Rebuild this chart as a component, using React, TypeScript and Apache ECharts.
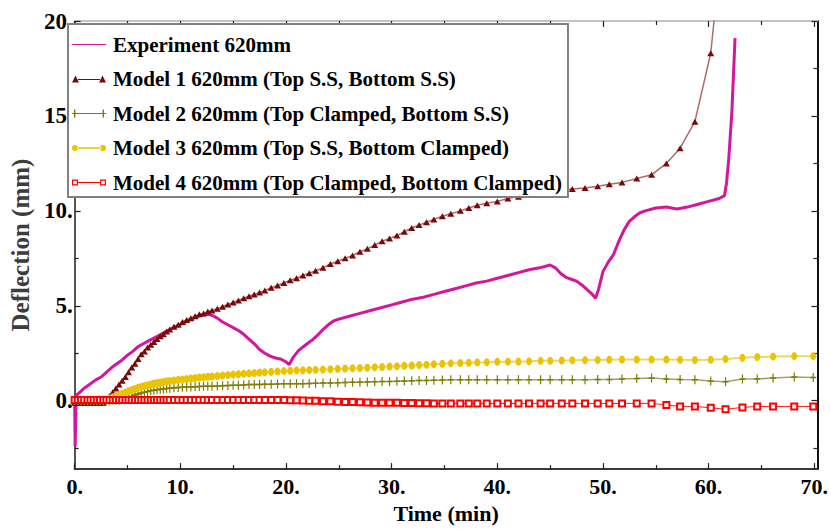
import React, { useEffect, useRef } from 'react';
import * as echarts from 'echarts';

const FONT = '"Liberation Serif", "Times New Roman", serif';

// Experiment (time in min, deflection in mm)
const expTime = [0, 0.05, 0.15, 0.4, 1, 1.5, 2, 2.5, 3, 3.5, 4, 4.5, 5, 5.5, 6, 6.5, 7, 7.5, 8, 8.5, 9, 9.5, 10, 10.5, 11, 11.5, 12, 12.5, 13, 13.5, 14, 14.5, 15, 15.5, 16, 16.5, 17, 17.5, 18, 18.5, 19, 19.5, 20, 20.3, 20.7, 21.2, 22, 22.5, 23, 23.5, 24, 24.5, 25, 26, 27, 28, 29, 30, 31, 32, 33, 34, 35, 36, 37, 38, 39, 40, 41, 42, 43, 44, 45, 45.5, 46, 46.5, 47, 47.5, 48, 48.5, 49, 49.3, 49.6, 50, 50.5, 51, 51.5, 52, 52.5, 53, 53.5, 54, 55, 56, 57, 58, 59, 60, 61, 61.5, 61.7, 61.9, 62.2, 62.5];
const expDeflection = [0, -2.4, 0.3, 0.4, 0.7, 0.9, 1.1, 1.25, 1.5, 1.75, 1.95, 2.15, 2.4, 2.6, 2.85, 3.0, 3.15, 3.3, 3.45, 3.6, 3.75, 3.9, 4.0, 4.15, 4.3, 4.4, 4.5, 4.55, 4.5, 4.35, 4.15, 4.0, 3.85, 3.7, 3.5, 3.25, 3.0, 2.7, 2.5, 2.35, 2.25, 2.2, 2.05, 1.9, 2.3, 2.65, 3.0, 3.2, 3.45, 3.75, 4.0, 4.2, 4.3, 4.45, 4.6, 4.75, 4.9, 5.05, 5.2, 5.35, 5.45, 5.6, 5.75, 5.9, 6.05, 6.2, 6.3, 6.45, 6.6, 6.75, 6.9, 7.0, 7.15, 7.0, 6.7, 6.5, 6.4, 6.3, 6.1, 5.85, 5.6, 5.4, 5.9, 6.8, 7.3, 7.7, 8.4, 9.0, 9.45, 9.7, 9.9, 10.0, 10.15, 10.2, 10.1, 10.2, 10.35, 10.5, 10.65, 10.8, 11.5, 12.7, 15.2, 19.1];

// Model output time steps (min)
const modelTime = [
  0, 0.3, 0.6, 0.9, 1.2, 1.5, 1.8, 2.1, 2.4, 2.7,
  3.0, 3.3, 3.6, 3.9, 4.2, 4.5, 4.8, 5.1, 5.4, 5.7,
  6.0, 6.3, 6.6, 6.9, 7.2, 7.5, 7.8, 8.1, 8.4, 8.7,
  9.0, 9.4, 9.8, 10.2, 10.6, 11.0, 11.4, 11.8, 12.2, 12.6,
  13.0, 13.5, 14.0, 14.5, 15.0, 15.5, 16.0, 16.5, 17.0, 17.5,
  18.0, 18.6, 19.2, 19.8, 20.4, 21.0, 21.6, 22.2, 22.8, 23.5,
  24.2, 24.9, 25.6, 26.3, 27.0, 27.7, 28.4, 29.1, 29.8, 30.5,
  31.2, 31.9, 32.6, 33.3, 34.0, 34.8, 35.6, 36.5, 37.3, 38.1,
  39.0, 40.0, 41.0, 42.0, 43.0, 44.1, 45.0, 46.1, 47.1, 48.3,
  49.5, 50.6, 51.8, 53.2, 54.6, 56.0, 57.3, 58.7, 60.2, 61.6,
  63.2, 64.6, 66.1, 68.1, 69.9,
];

const model1 = [
  -0.1, -0.1, -0.1, -0.1, -0.1, -0.1, -0.1, -0.1, -0.1, -0.1,
  0.0, 0.25, 0.45, 0.65, 0.85, 1.05, 1.25, 1.5, 1.75, 1.95,
  2.2, 2.45, 2.6, 2.8, 2.95, 3.1, 3.25, 3.4, 3.5, 3.65,
  3.75, 3.9, 4.0, 4.15, 4.25, 4.35, 4.45, 4.55, 4.6, 4.7,
  4.75, 4.85, 4.95, 5.07, 5.18, 5.28, 5.4, 5.5, 5.6, 5.7,
  5.8, 5.95, 6.07, 6.2, 6.35, 6.45, 6.6, 6.72, 6.85, 7.0,
  7.2, 7.35, 7.5, 7.65, 7.85, 8.0, 8.2, 8.4, 8.55, 8.7,
  8.9, 9.1, 9.25, 9.4, 9.55, 9.72, 9.85, 10.0, 10.15, 10.3,
  10.4, 10.5, 10.65, 10.75, 10.85, 10.95, 11.05, 11.1, 11.15, 11.2,
  11.3, 11.4, 11.5, 11.7, 11.9, 12.5, 13.3, 14.7, 18.3, 26,
  null, null, null, null, null,
];

const model2 = [
  0.02, 0.02, 0.02, 0.02, 0.02, 0.02, 0.02, 0.02, 0.02, 0.02,
  0.02, 0.02, 0.02, 0.02, 0.02, 0.05, 0.1, 0.17, 0.24, 0.3,
  0.36, 0.41, 0.45, 0.49, 0.52, 0.55, 0.58, 0.6, 0.62, 0.64,
  0.66, 0.68, 0.7, 0.71, 0.72, 0.73, 0.74, 0.75, 0.76, 0.77,
  0.77, 0.78, 0.79, 0.8, 0.81, 0.82, 0.83, 0.85, 0.85, 0.86,
  0.87, 0.87, 0.88, 0.89, 0.89, 0.9, 0.9, 0.91, 0.92, 0.93,
  0.94, 0.95, 0.96, 0.97, 0.98, 0.99, 1.0, 1.01, 1.02, 1.03,
  1.04, 1.05, 1.06, 1.07, 1.08, 1.09, 1.1, 1.1, 1.1, 1.1,
  1.1, 1.1, 1.1, 1.1, 1.1, 1.1, 1.1, 1.1, 1.1, 1.1,
  1.12, 1.12, 1.15, 1.17, 1.2, 1.15, 1.12, 1.1, 1.04, 1.0,
  1.15, 1.15, 1.2, 1.25, 1.22,
];

const model3 = [
  0.02, 0.02, 0.02, 0.02, 0.02, 0.02, 0.02, 0.02, 0.02, 0.02,
  0.05, 0.12, 0.18, 0.24, 0.3, 0.36, 0.43, 0.5, 0.56, 0.62,
  0.68, 0.73, 0.78, 0.82, 0.86, 0.9, 0.93, 0.96, 0.99, 1.02,
  1.04, 1.07, 1.1, 1.12, 1.14, 1.17, 1.19, 1.22, 1.24, 1.26,
  1.28, 1.3, 1.33, 1.35, 1.38, 1.4, 1.42, 1.44, 1.46, 1.48,
  1.5, 1.52, 1.54, 1.56, 1.58, 1.6, 1.61, 1.62, 1.63, 1.65,
  1.66, 1.68, 1.69, 1.71, 1.72, 1.74, 1.76, 1.78, 1.8, 1.82,
  1.84, 1.86, 1.88, 1.9, 1.92, 1.95, 1.97, 1.99, 2.0, 2.02,
  2.03, 2.05, 2.06, 2.07, 2.08, 2.1, 2.11, 2.12, 2.13, 2.14,
  2.15, 2.16, 2.17, 2.17, 2.17, 2.17, 2.16, 2.15, 2.16, 2.2,
  2.26, 2.3, 2.33, 2.35, 2.35,
];

const model4 = [
  0.04, 0.04, 0.04, 0.04, 0.04, 0.04, 0.04, 0.04, 0.04, 0.04,
  0.04, 0.04, 0.04, 0.04, 0.04, 0.04, 0.04, 0.04, 0.04, 0.04,
  0.04, 0.04, 0.04, 0.04, 0.04, 0.04, 0.04, 0.04, 0.04, 0.04,
  0.04, 0.04, 0.04, 0.04, 0.04, 0.04, 0.04, 0.04, 0.04, 0.04,
  0.04, 0.04, 0.04, 0.04, 0.04, 0.04, 0.04, 0.04, 0.04, 0.04,
  0.04, 0.04, 0.04, 0.04, 0.02, 0.02, 0.01, 0.0, 0.0, -0.02,
  -0.03, -0.05, -0.06, -0.07, -0.08, -0.09, -0.1, -0.1, -0.1, -0.11,
  -0.12, -0.12, -0.13, -0.13, -0.14, -0.14, -0.14, -0.14, -0.14, -0.14,
  -0.14, -0.14, -0.14, -0.14, -0.14, -0.14, -0.14, -0.14, -0.14, -0.14,
  -0.14, -0.14, -0.14, -0.14, -0.14, -0.22, -0.3, -0.3, -0.37, -0.45,
  -0.35, -0.3, -0.3, -0.3, -0.3,
];

const seriesNames = [
  'Experiment 620mm',
  'Model 1 620mm (Top S.S, Bottom S.S)',
  'Model 2 620mm (Top Clamped, Bottom S.S)',
  'Model 3 620mm (Top S.S, Bottom Clamped)',
  'Model 4 620mm (Top Clamped, Bottom Clamped)',
];

const xMajorTicks = [0, 10, 20, 30, 40, 50, 60, 70];
const xMinorTicks = [5, 15, 25, 35, 45, 55, 65];
const yMajorTicks = [0, 5, 10, 15, 20];
const yMinorTicks = [-2.5, 2.5, 7.5, 12.5, 17.5];

const X_MIN = 0;
const X_MAX = 70.3;
const Y_MIN = -3.6;
const Y_MAX = 20;

const PLUS = 'path://M4,0h2v12h-2z M0,5h10v2h-10z';

// legend icons: short line with a marker at each end
const ICON_EXP = 'path://M0,4.4h34v1.2h-34z';
const ICON_M1 = 'path://M0,10L3.5,3L7,10Z M27,10L30.5,3L34,10Z M6,6.4h22v1.2h-22z';
const ICON_M2 = 'path://M2,2h1.4v8h-1.4z M30.6,2h1.4v8h-1.4z M0,5.4h34v1.2h-34z';
const ICON_M3 = 'path://M0,6a3,3 0 1,0 6,0a3,3 0 1,0 -6,0z M28,6a3,3 0 1,0 6,0a3,3 0 1,0 -6,0z M5,5.3h24v1.4h-24z';
const ICON_M4 = 'path://M0,3h6v6h-6z M1.2,4.2v3.6h3.6v-3.6z M28,3h6v6h-6z M29.2,4.2v3.6h3.6v-3.6z M6,5.4h22v1.2h-22z';

function pairs(xs: number[], ys: (number | null)[]) {
  const out: [number, number][] = [];
  xs.forEach((x, i) => {
    const y = ys[i];
    if (y !== null && y !== undefined) out.push([x, y]);
  });
  return out;
}

function axis(
  position: string,
  min: number,
  max: number,
  ticks: number[],
  tickLen: number,
  line: { show: boolean; color?: string },
  extra: any = {}
) {
  return {
    type: 'value',
    position,
    min,
    max,
    axisLine: { show: line.show, onZero: false, lineStyle: { color: line.color || '#000', width: 2 } },
    axisTick: { show: true, inside: true, length: tickLen, customValues: ticks, lineStyle: { color: '#222', width: 1.2 } },
    axisLabel: { show: false },
    splitLine: { show: false },
    minorTick: { show: false },
    ...extra,
  };
}

const labelStyle = (size: number, margin: number, values: number[]) => ({
  show: true,
  customValues: values,
  formatter: (v: number) => `${v}.`,
  fontFamily: FONT,
  fontWeight: 'bold',
  fontSize: size,
  color: '#000',
  margin,
});

export default function App() {
  const ref = useRef<HTMLDivElement>(null);

  useEffect(() => {
    if (!ref.current) return;
    const chart = echarts.init(ref.current, null, { renderer: 'svg' });

    const option: any = {
      animation: false,
      backgroundColor: '#fff',
      grid: { left: 66, right: 13, top: 21, bottom: 56, containLabel: false },
      xAxis: [
        axis('bottom', X_MIN, X_MAX, xMajorTicks, 6, { show: true, color: '#3a3a3a' }, {
          name: 'Time (min)',
          nameLocation: 'middle',
          nameGap: 27,
          nameTextStyle: { fontFamily: FONT, fontWeight: 'bold', fontSize: 22, color: '#000' },
          axisLabel: labelStyle(22, 6, xMajorTicks),
        }),
        axis('bottom', X_MIN, X_MAX, xMinorTicks, 4, { show: false }),
        axis('top', X_MIN, X_MAX, xMajorTicks, 6, { show: true, color: '#c4c4c4' }),
        axis('top', X_MIN, X_MAX, xMinorTicks, 4, { show: false }),
      ],
      yAxis: [
        axis('left', Y_MIN, Y_MAX, yMajorTicks, 6, { show: true, color: '#555' }, {
          name: 'Deflection (mm)',
          nameLocation: 'middle',
          nameGap: 33,
          nameTextStyle: { fontFamily: FONT, fontWeight: 'bold', fontSize: 25, color: '#3c3c3c' },
          axisLabel: labelStyle(23, 2, yMajorTicks),
        }),
        axis('left', Y_MIN, Y_MAX, yMinorTicks, 4, { show: false }),
        axis('right', Y_MIN, Y_MAX, yMajorTicks, 6, { show: true, color: '#111' }),
        axis('right', Y_MIN, Y_MAX, yMinorTicks, 4, { show: false }),
      ],
      legend: {
        orient: 'vertical',
        left: 68,
        top: 24,
        padding: [8, 6, 2, 4],
        itemGap: 9.5,
        itemWidth: 34,
        itemHeight: 12,
        symbolKeepAspect: true,
        backgroundColor: '#fff',
        borderColor: '#808080',
        borderWidth: 2,
        textStyle: { fontFamily: FONT, fontWeight: 'bold', fontSize: 21, color: '#000', lineHeight: 25, padding: [0, 0, 0, 2] },
        data: [
          { name: seriesNames[0], icon: ICON_EXP },
          { name: seriesNames[1], icon: ICON_M1 },
          { name: seriesNames[2], icon: ICON_M2 },
          { name: seriesNames[3], icon: ICON_M3 },
          { name: seriesNames[4], icon: ICON_M4 },
        ],
      },
      series: [
        {
          name: seriesNames[0],
          type: 'line',
          data: pairs(expTime, expDeflection),
          symbol: 'none',
          lineStyle: { color: '#d4169f', width: 3 },
          itemStyle: { color: '#d4169f' },
          z: 2,
        },
        {
          name: seriesNames[1],
          type: 'line',
          data: pairs(modelTime, model1),
          symbol: 'triangle',
          symbolSize: [7, 6],
          itemStyle: { color: '#7a0808' },
          lineStyle: { color: '#b06a6a', width: 1.5 },
          z: 3,
        },
        {
          name: seriesNames[2],
          type: 'line',
          data: pairs(modelTime, model2),
          symbol: PLUS,
          symbolSize: [6, 9],
          itemStyle: { color: '#7d7d00' },
          lineStyle: { color: '#a4a468', width: 1.5 },
          z: 4,
        },
        {
          name: seriesNames[3],
          type: 'line',
          data: pairs(modelTime, model3),
          symbol: 'circle',
          symbolSize: [6, 8],
          itemStyle: { color: '#ebc300' },
          lineStyle: { color: '#f0d466', width: 2 },
          z: 5,
        },
        {
          name: seriesNames[4],
          type: 'line',
          data: pairs(modelTime, model4),
          symbol: 'emptyRect',
          symbolSize: 6,
          itemStyle: { color: '#ff0000', borderWidth: 1.3 },
          lineStyle: { color: '#ff2020', width: 1 },
          z: 6,
        },
      ],
    };

    chart.setOption(option);
    return () => {
      chart.dispose();
    };
  }, []);

  return (
    <div
      ref={ref}
      style={{ position: 'fixed', left: 0, top: 0, width: 831, height: 529, background: '#fff' }}
    />
  );
}
